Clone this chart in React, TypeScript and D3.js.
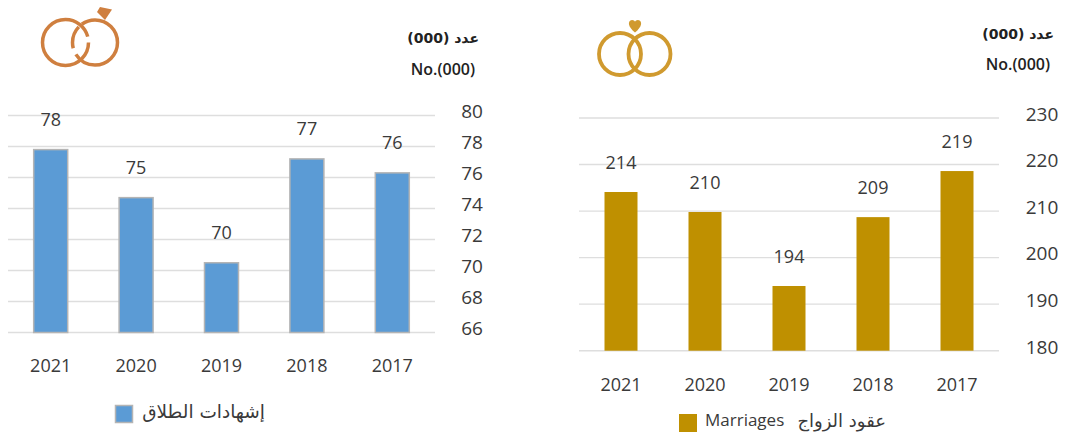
import React from "react";
import * as d3 from "d3";

const years = ["2021", "2020", "2019", "2018", "2017"];
const divorceValues = [77.8, 74.7, 70.5, 77.2, 76.3];
const divorceLabels = ["78", "75", "70", "77", "76"];
const divorceTicks = [66, 68, 70, 72, 74, 76, 78, 80];
const marriageValues = [214.1, 209.8, 193.9, 208.7, 218.6];
const marriageLabels = ["214", "210", "194", "209", "219"];
const marriageTicks = [180, 190, 200, 210, 220, 230];
const font = "'Open Sans', sans-serif";
const text = "#3a3a3a";

function Chart({ x0, x1, yTop, yBottom, domain, ticks, values, labels, fill, stroke, barW, tickX, labelY, labelGap }: any) {
  const x = d3.scaleBand<string>().domain(years).range([x0, x1]);
  const y = d3.scaleLinear().domain(domain).range([yBottom, yTop]);
  return (
    <g fontFamily={font} fill={text}>
      {ticks.map((t: number) => (
        <g key={t}>
          <line x1={x0} x2={x1} y1={y(t)} y2={y(t)} stroke="#dedede" strokeWidth={1.4} />
          <text x={tickX} y={y(t) - 4} dy="0.36em" fontSize={19} textAnchor="middle">{t}</text>
        </g>
      ))}
      {years.map((yr, i) => {
        const cx = x(yr)! + x.bandwidth() / 2;
        return (
          <g key={yr}>
            <rect x={cx - barW / 2} y={y(values[i])} width={barW} height={yBottom - y(values[i])} fill={fill} stroke={stroke} strokeWidth={stroke === "none" ? 0 : 1.5} />
            <text x={cx} y={y(values[i]) - labelGap} fontSize={18} textAnchor="middle">{labels[i]}</text>
            <text x={cx} y={labelY} fontSize={18} textAnchor="middle">{yr}</text>
          </g>
        );
      })}
    </g>
  );
}

export default function App() {
  return (
    <svg width={1065} height={435} style={{ position: "absolute", left: 0, top: 0 }}>
      <rect width={1065} height={435} fill="#fff" />
      <Chart x0={8} x1={435} yTop={115.5} yBottom={332.5} domain={[66, 80]} ticks={divorceTicks}
        values={divorceValues} labels={divorceLabels} fill="#5b9bd5" stroke="#b4b4b4" barW={34} tickX={472} labelY={372} labelGap={24} />
      <Chart x0={579} x1={999} yTop={118} yBottom={350.7} domain={[180, 230]} ticks={marriageTicks}
        values={marriageValues} labels={marriageLabels} fill="#bf9000" stroke="none" barW={33} tickX={1042} labelY={391} labelGap={23} />

      {/* unit captions */}
      <g fontFamily={font} fill="#222" fontWeight={600} fontSize={16}>
        <text x={479} y={43} textAnchor="end" direction="rtl" style={{ direction: "ltr" }} fontFamily="'DejaVu Sans', sans-serif" fontSize={14}>عدد (000)</text>
        <text x={475} y={74.5} textAnchor="end">No.(000)</text>
        <text x={1054} y={39} textAnchor="end" style={{ direction: "ltr" }} fontFamily="'DejaVu Sans', sans-serif" fontSize={14}>عدد (000)</text>
        <text x={1050} y={69.5} textAnchor="end">No.(000)</text>
      </g>

      {/* legends */}
      <rect x={115.5} y={405.5} width={17} height={17} fill="#5b9bd5" stroke="#b4b4b4" strokeWidth={1.5} />
      <text x={265} y={418} textAnchor="end" fontFamily="'DejaVu Sans', sans-serif" fontSize={18.5} fill={text}>إشهادات الطلاق</text>
      <rect x={679} y={414} width={18} height={18} fill="#bf9000" />
      <text x={705} y={426} fontFamily={font} fontSize={17} fill={text}>Marriages</text>
      <text x={886} y={427} textAnchor="end" fontFamily="'DejaVu Sans', sans-serif" fontSize={18} fill={text}>عقود الزواج</text>

      {/* divorce rings icon */}
      <g fill="none" stroke="#cf7f3f" strokeWidth={3.5}>
        <circle cx={65.5} cy={42.5} r={23} pathLength={360} strokeDasharray="345 15" />
        <circle cx={95} cy={42.5} r={22.5} pathLength={360} strokeDasharray="148 17 59 10 126" />
      </g>
      <path d="M97 12 L100 7 L112 9.5 L105 20 Z" fill="#cf7f3f" />

      {/* marriage rings icon */}
      <g fill="none" stroke="#d09a2f" strokeWidth={3.8}>
        <circle cx={620} cy={54} r={21} />
        <circle cx={649.5} cy={54} r={21} />
      </g>
      <path d="M635 32.5 C628 27 627 21 632 20 C634 20 635 21 635 22 C635 21 636 20 638 20 C643 21 642 27 635 32.5 Z" fill="#d09a2f" />
    </svg>
  );
}
